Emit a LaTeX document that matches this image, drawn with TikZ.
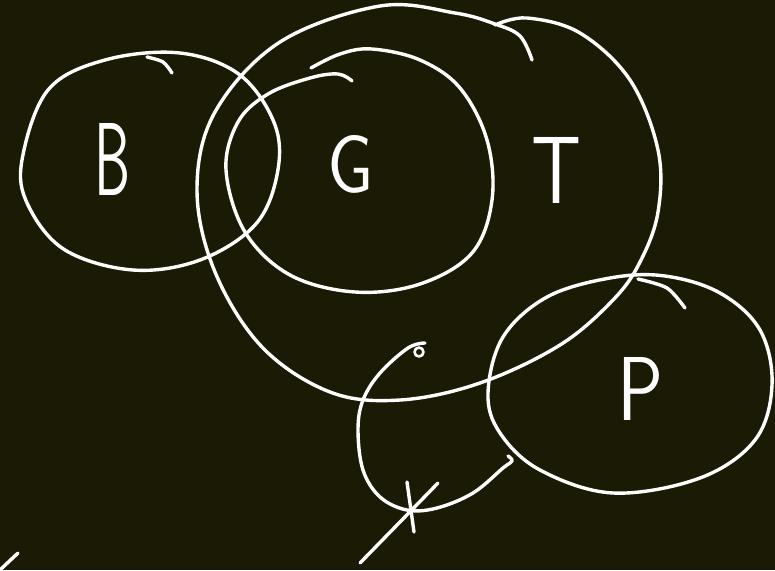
\documentclass[tikz,border=0pt]{standalone}
\usepackage{graphicx}
\definecolor{boardDark}{HTML}{1B1A05}
\definecolor{chalkWhite}{HTML}{FFFFFF}

\tikzset{
  chalk/.style={draw=chalkWhite, line width=3.4pt, line cap=round, line join=round},
  letter/.style={text=chalkWhite, inner sep=0pt, anchor=base, font=\sffamily}
}

\begin{document}
\begin{tikzpicture}[x=1pt, y=-1pt]
    \fill[boardDark] (0,0) rectangle (775,570);
    \useasboundingbox (0,0) rectangle (775,570);
    % set B
    \draw[chalk] plot[smooth cycle, tension=0.6] coordinates
      {(22,160) (48,90) (105,60) (180,53) (240,75) (275,125) (277,175)
       (255,225) (200,260) (133,270) (65,250) (28,205)};
    \draw[chalk] plot[smooth] coordinates {(147,57) (163,62) (172,73)};
    % set G
    \draw[chalk] plot[smooth, tension=0.6] coordinates
      {(311,68) (340,54) (372,49) (420,60) (460,88) (487,140) (492,200)
       (472,253) (420,284) (355,292) (290,275) (245,232) (226,170)
       (238,122) (268,94) (310,78) (338,74) (352,81)};
    % set T
    \draw[chalk] plot[smooth, tension=0.6] coordinates
      {(495,25) (527,18) (580,33) (630,80) (658,150) (658,212) (640,262)
       (613,300) (560,345) (480,383) (400,400) (330,392) (262,347)
       (215,272) (197,190) (215,112) (280,42) (380,6) (455,13) (495,24)
       (520,36) (532,60)};
    % set P
    \draw[chalk] plot[smooth cycle, tension=0.6] coordinates
      {(488,393) (503,337) (547,297) (610,278) (665,276) (720,293)
       (760,330) (772,385) (755,440) (700,478) (613,493) (540,470) (500,433)};
    \draw[chalk] plot[smooth] coordinates {(638,279) (667,288) (685,308)};
    % the element x
    \draw[chalk] plot[smooth, tension=0.6] coordinates
      {(425,343) (408,348) (380,373) (363,400) (358,430) (363,470)
       (380,497) (407,510) (437,508) (473,493) (503,468) (512,461) (508,456)};
    \draw[chalk, line width=2.6pt] (419,352) circle (4.5);
    \draw[chalk] (360,563) -- (438,483);
    \draw[chalk] (407,482) -- (414,532);
    \draw[chalk] (1,569) -- (18,553);
    % labels
    \node[letter] (lblB) at (113,195) {\resizebox{36pt}{72pt}{B}};
    \node[letter] (lblG) at (351,192) {\resizebox{46pt}{57pt}{G}};
    \node[letter] (lblT) at (556,203) {\resizebox{50pt}{66pt}{T}};
    \node[letter] (lblP) at (641,420) {\resizebox{46pt}{63pt}{P}};
\end{tikzpicture}
\end{document}
